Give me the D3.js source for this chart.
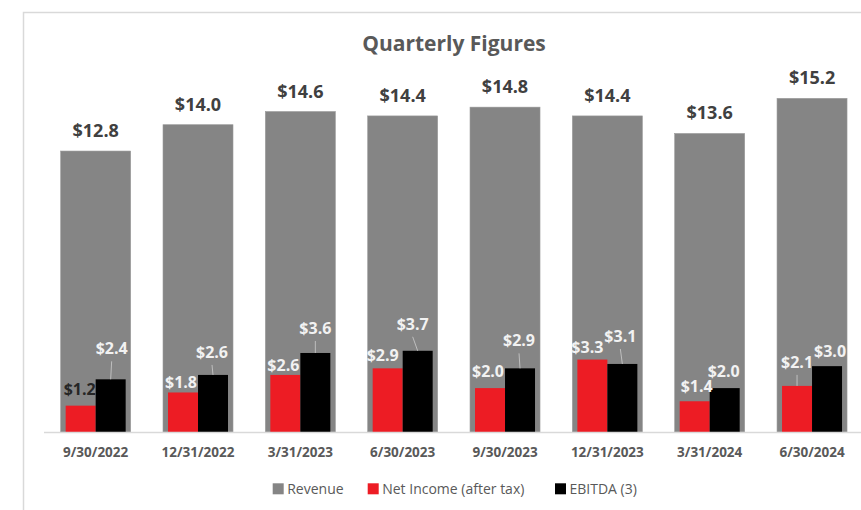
<!DOCTYPE html>
<html>
<head>
<meta charset="utf-8">
<script src="https://cdn.jsdelivr.net/npm/d3@7"></script>
<style>
  html, body { margin: 0; padding: 0; background: #ffffff; }
  svg { display: block; }
  text { font-family: "Open Sans", "Noto Sans", sans-serif; }
</style>
</head>
<body>
<svg id="chart" width="861" height="510"></svg>
<script>
// ---- data ----
const categories = ["9/30/2022", "12/31/2022", "3/31/2023", "6/30/2023", "9/30/2023", "12/31/2023", "3/31/2024", "6/30/2024"];
const revenue    = [12.8, 14.0, 14.6, 14.4, 14.8, 14.4, 13.6, 15.2];
const netIncome  = [1.2, 1.8, 2.6, 2.9, 2.0, 3.3, 1.4, 2.1];
const ebitda     = [2.4, 2.6, 3.6, 3.7, 2.9, 3.1, 2.0, 3.0];
const seriesNames = ["Revenue", "Net Income (after tax)", "EBITDA (3)"];

// ---- layout (label nudges, as placed in the original) ----
const niLabelNudge = [[-1, -17], [-2, -10], [-2, -10], [-5, -13], [-2, -17], [-5, -13], [2, -15], [0, -24]];
const ebLabelNudge = [[1, -31], [-1, -23], [0, -25], [-5, -27], [-1, -28], [-2, -28], [-1, -17], [3, -15]];

const colors = { rev: "#858585", ni: "#ED1C24", eb: "#000000" };
const fmt = v => "$" + d3.format(".1f")(v);

const svg = d3.select("#chart");

// frame border
svg.append("path")
  .attr("d", "M23.5,510 L23.5,12.5 L861,12.5")
  .attr("fill", "none").attr("stroke", "#d9d9d9").attr("stroke-width", 1.5);

const x = d3.scaleBand().domain(categories).range([44.5, 863.2]).paddingInner(0.316).paddingOuter(0.158);
const y = d3.scaleLinear().domain([0, 16]).range([432, 80.8]);
const sub = d3.scaleBand().domain(["ni", "eb"]).range([5, x.bandwidth() - 5]);

// title
svg.append("text")
  .attr("x", 454).attr("y", 51)
  .attr("text-anchor", "middle")
  .attr("font-size", 21).attr("font-weight", 700).attr("fill", "#595959")
  .text("Quarterly Figures");

// revenue bars
svg.append("g").selectAll("rect").data(categories).join("rect")
  .attr("x", d => x(d)).attr("width", x.bandwidth())
  .attr("y", (d, i) => y(revenue[i])).attr("height", (d, i) => y(0) - y(revenue[i]))
  .attr("fill", colors.rev).attr("stroke", "#9a9a9a").attr("stroke-width", 0.6);

// net income bars
svg.append("g").selectAll("rect").data(categories).join("rect")
  .attr("x", d => x(d) + sub("ni")).attr("width", sub.bandwidth())
  .attr("y", (d, i) => y(netIncome[i])).attr("height", (d, i) => y(0) - y(netIncome[i]))
  .attr("fill", colors.ni);

// ebitda bars
svg.append("g").selectAll("rect").data(categories).join("rect")
  .attr("x", d => x(d) + sub("eb")).attr("width", sub.bandwidth())
  .attr("y", (d, i) => y(ebitda[i])).attr("height", (d, i) => y(0) - y(ebitda[i]))
  .attr("fill", colors.eb);

// x axis
const xAxis = d3.axisBottom(x).tickSize(0).tickPadding(0);
const gx = svg.append("g").attr("transform", `translate(0,${y(0)})`).call(xAxis);
gx.select(".domain").attr("d", "M44,0.5H861").attr("stroke", "#d9d9d9").attr("stroke-width", 1.5);
gx.selectAll(".tick text")
  .attr("y", 25).attr("dy", null)
  .attr("font-family", "\"Open Sans\", sans-serif")
  .attr("font-size", 13.5).attr("font-weight", 700).attr("fill", "#595959");

// revenue labels
svg.append("g").selectAll("text").data(categories).join("text")
  .attr("x", d => x(d) + x.bandwidth() / 2)
  .attr("y", (d, i) => y(revenue[i]) - 14)
  .attr("text-anchor", "middle")
  .attr("font-size", 18).attr("font-weight", 700).attr("fill", "#404040")
  .text((d, i) => fmt(revenue[i]));

// small labels helper
function smallLabels(vals, key, nudge) {
  const g = svg.append("g");
  categories.forEach((c, i) => {
    const bx = x(c) + sub(key) + sub.bandwidth() / 2;
    const by = y(vals[i]);
    const lx = bx + nudge[i][0];
    const ly = by + nudge[i][1];
    if (nudge[i][1] < -20) {
      g.append("line")
        .attr("x1", lx).attr("y1", ly + 13)
        .attr("x2", bx).attr("y2", by)
        .attr("stroke", "#bfbfbf").attr("stroke-width", 1);
    }
    g.append("text")
      .attr("x", lx).attr("y", ly + 6)
      .attr("text-anchor", "middle")
      .attr("font-size", 16).attr("font-weight", 700)
      .attr("fill", (key === "ni" && i === 0) ? "#262626" : "#f2f2f2")
      .text(fmt(vals[i]));
  });
}
smallLabels(netIncome, "ni", niLabelNudge);
smallLabels(ebitda, "eb", ebLabelNudge);

// legend
const legendItems = [
  { name: seriesNames[0], color: colors.rev, x: 272.7 },
  { name: seriesNames[1], color: colors.ni, x: 367.7 },
  { name: seriesNames[2], color: colors.eb, x: 555 }
];
const lg = svg.append("g");
legendItems.forEach(it => {
  lg.append("rect").attr("x", it.x).attr("y", 483.3).attr("width", 11).attr("height", 11).attr("fill", it.color);
  lg.append("text").attr("x", it.x + 14.5).attr("y", 493.5)
    .attr("font-size", 14).attr("fill", "#595959").text(it.name);
});
</script>
</body>
</html>
